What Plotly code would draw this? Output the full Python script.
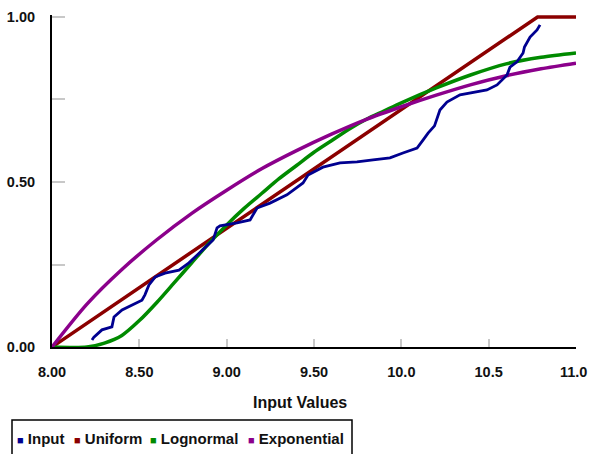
import plotly.graph_objects as go

# ---- data ----
input_x = [8.229, 8.240, 8.286, 8.343, 8.355, 8.401, 8.515, 8.532, 8.555, 8.590, 8.647, 8.727,
           8.784, 8.864, 8.922, 8.945, 8.962, 9.059, 9.134, 9.174, 9.248, 9.345, 9.437, 9.466,
           9.551, 9.649, 9.746, 9.838, 9.935, 10.009, 10.090, 10.124, 10.153, 10.190, 10.221,
           10.261, 10.336, 10.490, 10.548, 10.605, 10.622, 10.662, 10.697, 10.705, 10.737,
           10.777, 10.794]
input_y = [0.021, 0.030, 0.052, 0.061, 0.091, 0.112, 0.142, 0.158, 0.188, 0.212, 0.224, 0.233,
           0.255, 0.294, 0.324, 0.361, 0.367, 0.376, 0.385, 0.421, 0.436, 0.461, 0.497, 0.521,
           0.545, 0.558, 0.561, 0.567, 0.573, 0.588, 0.603, 0.627, 0.648, 0.670, 0.718,
           0.742, 0.764, 0.779, 0.794, 0.824, 0.848, 0.864, 0.891, 0.909, 0.939,
           0.961, 0.976]

uniform_x = [8.00, 10.78, 11.00]
uniform_y = [0.00, 1.00, 1.00]

lognormal_x = [8.0, 8.2, 8.3, 8.4, 8.5, 8.6, 8.7, 8.8, 8.9, 9.0, 9.1, 9.2, 9.3, 9.4, 9.5,
               9.6, 9.7, 9.8, 9.9, 10.0, 10.2, 10.4, 10.6, 10.8, 11.0]
lognormal_y = [0.0, 0.0, 0.012, 0.035, 0.08, 0.135, 0.195, 0.255, 0.315, 0.37, 0.42, 0.465,
               0.51, 0.55, 0.59, 0.625, 0.66, 0.69, 0.715, 0.74, 0.785, 0.825, 0.858, 0.878, 0.891]

exponential_x = [8.0, 8.2, 8.4, 8.6, 8.8, 9.0, 9.2, 9.4, 9.6, 9.8, 10.0, 10.2, 10.4, 10.6,
                 10.8, 11.0]
exponential_y = [0.0, 0.13, 0.235, 0.325, 0.405, 0.475, 0.54, 0.595, 0.645, 0.69, 0.728,
                 0.763, 0.795, 0.822, 0.843, 0.86]

x_tickvals = [8.0, 8.5, 9.0, 9.5, 10.0, 10.5, 11.0]
x_ticktext = ["8.00", "8.50", "9.00", "9.50", "10.0", "10.5", "11.0"]
y_tickvals = [0.0, 0.25, 0.5, 0.75, 1.0]
y_ticktext = ["0.00", "", "0.50", "", "1.00"]

series_names = ["Input", "Uniform", "Lognormal", "Exponential"]
series_colors = ["#000090", "#8B0000", "#008A00", "#8B008B"]

FONT = "Liberation Sans, Arial, sans-serif"

fig = go.Figure()
data = [(input_x, input_y), (uniform_x, uniform_y), (lognormal_x, lognormal_y),
        (exponential_x, exponential_y)]
order = [1, 2, 3, 0]  # draw input on top
for i in order:
    xs, ys = data[i]
    fig.add_trace(go.Scatter(
        x=xs, y=ys, mode="lines", name=series_names[i],
        line=dict(color=series_colors[i], width=3.5 if i != 0 else 2.8,
                  shape="linear" if i in (0, 1) else "spline", smoothing=0.8),
        showlegend=False, hoverinfo="skip"))

W, H = 590, 454
ml, mr, mt, mb = 52, 14, 15, 107

# last x label is placed separately (nudged left like the reference so it fits)
x_ticktext_axis = x_ticktext[:-1] + [""]

tickfont = dict(family=FONT, size=14.5, color="#111111", weight="bold")
fig.update_layout(
    width=W, height=H,
    margin=dict(l=ml, r=mr, t=mt, b=mb, pad=0, autoexpand=False),
    paper_bgcolor="white", plot_bgcolor="white",
    font=dict(family=FONT, size=15, color="#111111"),
    xaxis=dict(range=[8.0, 11.0], tickvals=x_tickvals, ticktext=x_ticktext_axis,
               ticks="inside", ticklen=8, tickwidth=2, tickcolor="#c8c8c8",
               showline=True, linecolor="black", linewidth=2, showgrid=False,
               zeroline=False, tickfont=tickfont, automargin=False,
               ticklabelstandoff=11, ticklabeloverflow="allow"),
    yaxis=dict(range=[0.0, 1.006], tickvals=y_tickvals, ticktext=y_ticktext,
               ticks="inside", ticklen=13, tickwidth=2, tickcolor="#c8c8c8",
               showline=True, linecolor="black", linewidth=2, showgrid=False,
               zeroline=False, tickfont=tickfont, automargin=False,
               ticklabelstandoff=12, ticklabeloverflow="allow"),
)

pw = W - ml - mr
ph = H - mt - mb


def px_to_paper(px, py):
    return (px - ml) / pw, (H - mb - py) / ph


# last x tick label
_, ly = px_to_paper(0, 372)
fig.add_annotation(x=x_tickvals[-1], xref="x", xshift=-3, y=ly, yref="paper",
                   text=x_ticktext[-1], showarrow=False, xanchor="center", yanchor="middle",
                   font=tickfont)

# axis title
tx, ty = px_to_paper(300, 402)
fig.add_annotation(x=tx, y=ty, xref="paper", yref="paper", text="<b>Input Values</b>",
                   showarrow=False, xanchor="center", yanchor="middle",
                   font=dict(family=FONT, size=16, color="#111111"))

# legend box (bottom edge runs off the picture, as in the reference)
x0, y0 = px_to_paper(12, 420)
x1, y1 = px_to_paper(352, 470)
fig.add_shape(type="rect", xref="paper", yref="paper", x0=x0, y0=y1, x1=x1, y1=y0,
              line=dict(color="black", width=1.5), fillcolor="white", layer="above")

legend_px = [15, 72, 148, 246]
for name, color, lx in zip(series_names, series_colors, legend_px):
    ax, ay = px_to_paper(lx, 438)
    fig.add_annotation(x=ax, y=ay, xref="paper", yref="paper",
                       text=f"<span style='color:{color};font-size:11px'>■</span> <b>{name}</b>",
                       showarrow=False, xanchor="left", yanchor="middle",
                       font=dict(family=FONT, size=15, color="#111111"))

fig.write_html("out.html", config={"displayModeBar": False},
               post_script="document.body.style.margin='0px';document.body.style.overflow='hidden';")
